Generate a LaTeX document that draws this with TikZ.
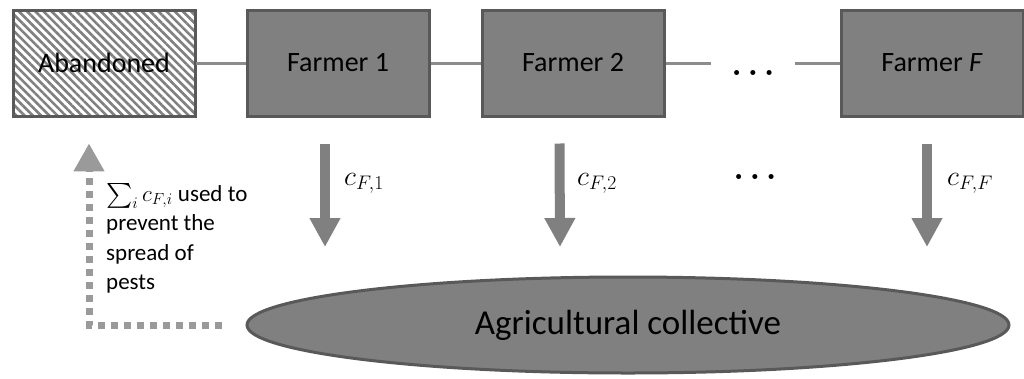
\documentclass[tikz,border=0pt]{standalone}
\usepackage{fix-cm}
\usepackage{amsmath}
\usepackage{fontspec}
\setmainfont{Carlito}
\usetikzlibrary{arrows.meta,patterns.meta,shapes.geometric}

\definecolor{boxgray}{HTML}{808080}
\definecolor{edgegray}{HTML}{595959}
\definecolor{linegray}{HTML}{8C8C8C}
\definecolor{dotgray}{HTML}{9A9A9A}

\begin{document}
\begin{tikzpicture}[x=1pt, y=-1pt,
    plot/.style={draw=edgegray, line width=3pt, minimum width=182pt, minimum height=106pt,
        inner sep=0pt, font=\fontsize{28}{34}\selectfont},
    farmer/.style={plot, fill=boxgray},
    link/.style={draw=linegray, line width=3pt},
    flow/.style={draw=boxgray, line width=10pt, -{Triangle[width=29pt,length=29pt]}},
    share/.style={font=\fontsize{28}{34}\selectfont, anchor=west, inner sep=0pt},
    more/.style={font=\fontsize{32}{38}\selectfont, inner sep=0pt}]

    \useasboundingbox (0,0) rectangle (1024,378);

    % row of plots
    \node[plot, preaction={fill=white},
        pattern={Lines[angle=-45, distance=5.8pt, line width=2.6pt]}, pattern color=boxgray]
        (aband) at (104,63) {Abandoned};
    \node[farmer] (f1) at (338,63) {Farmer 1};
    \node[farmer] (f2) at (573,63) {Farmer 2};
    \node[farmer] (fF) at (932,63) {Farmer \textit{F}};
    \node[more, inner xsep=20pt] (dtop) at (753,73) {$\boldsymbol{\ldots}$};

    % neighbours
    \draw[link] (aband) -- (f1);
    \draw[link] (f1) -- (f2);
    \draw[link] (f2.east) -- (f2.east -| dtop.west);
    \draw[link] (dtop.east |- fF.west) -- (fF.west);

    % collective
    \node[ellipse, draw=edgegray, fill=boxgray, line width=3pt, minimum width=762pt,
        minimum height=96pt, inner sep=0pt, font=\fontsize{35}{42}\selectfont]
        (coll) at (628,325) {Agricultural collective};

    % contributions
    \coordinate (e1) at (325,247);
    \coordinate (e2) at (560,247);
    \coordinate (eF) at (927,247);
    \draw[flow] ([xshift=-13pt, yshift=-26pt]f1.south) -- (e1);
    \draw[flow] ([xshift=-13.5pt, yshift=-26pt]f2.south) -- (e2);
    \draw[flow] ([xshift=-5pt, yshift=-26pt]fF.south) -- (eF);
    \node[share] (c1) at (344,183) {$c_{F,1}$};
    \node[share] (c2) at (577,183) {$c_{F,2}$};
    \node[share] (cF) at (947,183) {$c_{F,F}$};
    \node[more] (dmid) at (755,177) {$\boldsymbol{\ldots}$};

    % pest control
    \draw[dotgray, line width=7pt, dash pattern=on 7pt off 6pt, shorten <=24pt,
        -{Triangle[width=29pt,length=28pt]}]
        (coll.west) -| ([xshift=-15pt, yshift=-26pt]aband.south);
    \node[anchor=north west, inner sep=0pt, align=left, font=\fontsize{23}{29.5}\selectfont]
        (note) at (106,183) {$\sum_i c_{F,i}$ used to\\prevent the\\spread of\\pests};
\end{tikzpicture}
\end{document}
